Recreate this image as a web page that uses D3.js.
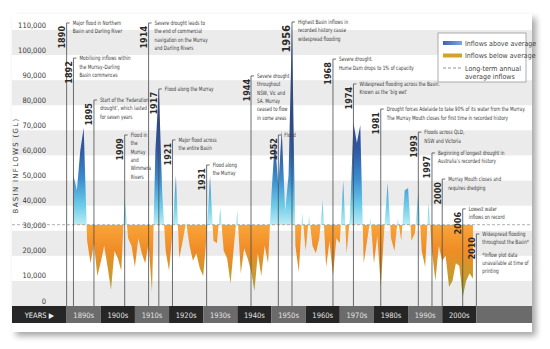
<!DOCTYPE html>
<html>
<head>
<meta charset="utf-8">
<title>Basin inflows</title>
<script src="https://cdn.jsdelivr.net/npm/d3@7"></script>
<style>
body { margin: 0; background: #fff; }
svg { display: block; }
.ylab { font: 7.5px "Liberation Sans Narrow", "DejaVu Sans Condensed", sans-serif; fill: #3a3a3a; }
.ytitle { font: 7px "DejaVu Sans", sans-serif; fill: #3a3a3a; letter-spacing: 1.3px; }
.decade { font: 7.5px "Liberation Sans Narrow", "DejaVu Sans Condensed", sans-serif; fill: #e2e2e2; }
.yr { font: bold 9px "DejaVu Sans Condensed", "DejaVu Sans", sans-serif; fill: #2b2b2b; }
.note { font: 6px "Liberation Sans Narrow", "DejaVu Sans Condensed", sans-serif; fill: #3a3a3a; }
.leg { font: 7px "Liberation Sans Narrow", "DejaVu Sans Condensed", sans-serif; fill: #444; }
</style>
</head>
<body>
<svg id="chart" width="550" height="349"></svg>
<script>
// annual basin inflows (GL)
var years = d3.range(1892, 2010);
var inflows = [
  52000, 46000, 62000, 71000, 26000, 17000, 25000, 12000,           // 1892-1899
  17500, 24000, 15500, 6500, 22000, 19000, 14000, 43000, 27000, 24000, // 1900s
  15500, 27000, 21000, 17000, 25000, 5600, 62000, 87000, 45000, 22000, // 1910s
  14000, 30000, 52000, 19000, 26000, 33500, 24000, 18000, 21000, 15000, // 1920s
  12000, 28000, 52000, 26000, 25000, 39000, 22000, 19000, 9000, 24000,  // 1930s
  38000, 13000, 23000, 19000, 14000, 6000, 21000, 12000, 24000, 17000,  // 1940s
  45000, 66000, 48000, 70000, 38000, 52000, 112000, 24000, 13500, 37000, // 1950s
  22000, 36000, 24000, 21000, 27000, 42000, 15500, 26000, 12000, 27000, // 1960s
  25000, 50000, 21000, 36000, 73000, 65000, 72000, 17000, 26000, 35000, // 1970s
  17000, 28000, 7600, 30000, 49000, 27000, 22000, 35000, 26000, 46000,  // 1980s
  47000, 26000, 29000, 45000, 22000, 15500, 41000, 22000, 10000, 24000, // 1990s
  18000, 20000, 7600, 10000, 17000, 16000, 3600, 10000, 13000, 11000    // 2000s
];
var average = 32400;
var yTicks = d3.range(0, 110001, 10000);
var decades = ["1890s", "1900s", "1910s", "1920s", "1930s", "1940s", "1950s", "1960s", "1970s", "1980s", "1990s", "2000s", ""];
var decadeStart = d3.range(1890, 2020, 10);

var events = [
  { label: "1890", at: 1890, level: 112800, text: ["Major flood in Northern", "Basin and Darling River"] },
  { label: "1892", at: 1892, level: 98800, text: ["Mobilising inflows within", "the Murray–Darling", "Basin commences"] },
  { label: "1895", at: 1898, level: 82100, text: ["Start of the ‘Federation", "drought’, which lasted", "for seven years"] },
  { label: "1909", at: 1907, level: 68150, text: ["Flood in", "the", "Murray", "and", "Wimmera", "Rivers"] },
  { label: "1914", at: 1914, level: 112800, text: ["Severe drought leads to", "the end of commercial", "navigation on the Murray", "and Darling Rivers"] },
  { label: "1917", at: 1917, level: 86500, text: ["Flood along the Murray"] },
  { label: "1921", at: 1921, level: 66200, text: ["Major flood across", "the entire Basin"] },
  { label: "1931", at: 1931, level: 56200, text: ["Flood along", "the Murray"] },
  { label: "1944", at: 1944, level: 91700, text: ["Severe drought", "throughout", "NSW, Vic and", "SA. Murray", "ceased to flow", "in some areas"] },
  { label: "1952", at: 1952, level: 68150, text: ["Flood"] },
  { label: "1956", at: 1956, level: 113200, text: ["Highest Basin inflows in", "recorded history cause", "widespread flooding"], big: true },
  { label: "1968", at: 1968, level: 98400, text: ["Severe drought.", "Hume Dam drops to 1% of capacity"] },
  { label: "1974", at: 1974, level: 88500, text: ["Widespread flooding across the Basin.", "Known as the ‘big wet’"] },
  { label: "1981", at: 1982, level: 78500, text: ["Drought forces Adelaide to take 90% of its water from the Murray.", "The Murray Mouth closes for first time in recorded history"] },
  { label: "1993", at: 1993, level: 69300, text: ["Floods across QLD,", "NSW and Victoria"] },
  { label: "1997", at: 1997, level: 61000, text: ["Beginning of longest drought in", "Australia’s recorded history"] },
  { label: "2000", at: 2000, level: 50600, text: ["Murray Mouth closes and", "requires dredging"] },
  { label: "2006", at: 2006, level: 38700, text: ["Lowest water", "inflows on record"] },
  { label: "2010", at: 2010, level: 28700, text: ["Widespread flooding", "throughout the Basin*"],
    note: ["*Inflow plot data", "unavailable at time of", "printing"] }
];

var svg = d3.select("#chart");
var card = { left: 12, top: 14, right: 532, bottom: 332 };
var plotBottom = 306, barH = 17;

var x = d3.scaleLinear().domain([1874, 2026]).range([card.left, card.right - 1]);
var y = d3.scaleLinear().domain([0, 110000]).range([plotBottom, 30]);

var defs = svg.append("defs");
var sh = defs.append("filter").attr("id", "shadow").attr("x", "-5%").attr("y", "-5%").attr("width", "115%").attr("height", "115%");
sh.append("feDropShadow").attr("dx", 4).attr("dy", 4).attr("stdDeviation", 3).attr("flood-color", "#000").attr("flood-opacity", 0.35);

var gBlue = defs.append("linearGradient").attr("id", "blue").attr("gradientUnits", "userSpaceOnUse")
  .attr("x1", 0).attr("x2", 0).attr("y1", y(average)).attr("y2", y(72000));
[[0, "#b9edf5"], [0.2, "#6ccae8"], [0.45, "#3d8fd0"], [0.75, "#2f5aa6"], [1, "#2b4a95"]].forEach(function (s) {
  gBlue.append("stop").attr("offset", s[0]).attr("stop-color", s[1]);
});
var gOr = defs.append("linearGradient").attr("id", "orange").attr("gradientUnits", "userSpaceOnUse")
  .attr("x1", 0).attr("x2", 0).attr("y1", y(average)).attr("y2", y(3000));
[[0, "#f9a43a"], [0.35, "#f08c25"], [0.7, "#c99a2c"], [1, "#8fa23e"]].forEach(function (s) {
  gOr.append("stop").attr("offset", s[0]).attr("stop-color", s[1]);
});
var lBlue = defs.append("linearGradient").attr("id", "legBlue");
lBlue.append("stop").attr("offset", 0).attr("stop-color", "#3a62b8");
lBlue.append("stop").attr("offset", 1).attr("stop-color", "#7da8e0");
var lOr = defs.append("linearGradient").attr("id", "legOr");
lOr.append("stop").attr("offset", 0).attr("stop-color", "#d8a323");
lOr.append("stop").attr("offset", 1).attr("stop-color", "#c9a435");

defs.append("clipPath").attr("id", "clipAbove").append("rect")
  .attr("x", card.left).attr("y", 0).attr("width", card.right - card.left).attr("height", y(average));
defs.append("clipPath").attr("id", "clipBelow").append("rect")
  .attr("x", card.left).attr("y", y(average)).attr("width", card.right - card.left).attr("height", plotBottom - y(average));

// card
svg.append("rect").attr("x", card.left).attr("y", card.top)
  .attr("width", card.right - card.left).attr("height", card.bottom - card.top)
  .attr("fill", "#fff").attr("filter", "url(#shadow)");

// alternating bands
svg.append("g").selectAll("rect").data(yTicks.slice(0, -1).filter(function (d, i) { return i % 2 === 0; }))
  .join("rect")
  .attr("x", card.left).attr("width", card.right - card.left)
  .attr("y", function (d) { return y(d + 10000); })
  .attr("height", function (d) { return y(d) - y(d + 10000); })
  .attr("fill", "#ebebeb");

// y tick labels
svg.append("g").selectAll("text").data(yTicks).join("text")
  .attr("class", "ylab").attr("text-anchor", "end")
  .attr("x", 46).attr("y", function (d) { return y(d) - 2.5; })
  .text(d3.format(","));

svg.append("text").attr("class", "ytitle").attr("text-anchor", "middle")
  .attr("transform", "translate(18," + y(56000) + ") rotate(-90)")
  .text("BASIN INFLOWS (GL)");

// inflow areas
var area = d3.area()
  .x(function (d, i) { return x(years[i]); })
  .y0(y(average))
  .y1(function (d) { return y(d); });

svg.append("path").datum(inflows).attr("d", area)
  .attr("fill", "url(#blue)").attr("clip-path", "url(#clipAbove)");
svg.append("path").datum(inflows).attr("d", area)
  .attr("fill", "url(#orange)").attr("clip-path", "url(#clipBelow)");

// long-term average
svg.append("line")
  .attr("x1", card.left).attr("x2", card.right)
  .attr("y1", y(average)).attr("y2", y(average))
  .attr("stroke", "#9a9a9a").attr("stroke-width", 0.8).attr("stroke-dasharray", "3,2");

// events
var lh = 8.3;
var ev = svg.append("g").selectAll("g").data(events).join("g")
  .attr("transform", function (d) { return "translate(" + x(d.at) + "," + y(d.level) + ")"; });

ev.append("path")
  .attr("d", function (d) { return "M3,0H0V" + (plotBottom - y(d.level)); })
  .attr("fill", "none").attr("stroke", "#4a4a4a").attr("stroke-width", 0.8);

ev.append("text").attr("class", "yr").attr("text-anchor", "end")
  .style("font-size", function (d) { return d.big ? "11px" : null; })
  .attr("transform", "translate(-1.5,3) rotate(-90)")
  .text(function (d) { return d.label; });

ev.each(function (d) {
  var g = d3.select(this);
  var t = g.append("text").attr("class", "note").attr("transform", "translate(6,2.2) scale(0.78,1)");
  d.text.forEach(function (s, i) {
    t.append("tspan").attr("x", 0).attr("y", i * lh).text(s);
  });
  if (d.note) {
    d.note.forEach(function (s, i) {
      t.append("tspan").attr("x", 0).attr("y", (i + 2.45) * lh).text(s);
    });
  }
});

// x axis bar
var bar = svg.append("g").attr("transform", "translate(0," + plotBottom + ")");
bar.append("rect").attr("x", card.left).attr("width", x(1890) - card.left).attr("height", barH).attr("fill", "#262626");
bar.append("text").attr("class", "decade").attr("x", (card.left + x(1890)) / 2).attr("y", 11.5)
  .attr("text-anchor", "middle").style("fill", "#f0f0f0").text("YEARS ▶");
var seg = bar.selectAll("g.seg").data(decadeStart).join("g").attr("class", "seg");
seg.append("rect")
  .attr("x", function (d) { return x(d); })
  .attr("width", function (d, i) { return i === decadeStart.length - 1 ? card.right - x(d) : x(d + 10) - x(d); })
  .attr("height", barH)
  .attr("fill", function (d, i) { return i % 2 === 0 ? "#6b6b6b" : "#262626"; });
seg.append("text").attr("class", "decade").attr("text-anchor", "middle")
  .attr("x", function (d) { return x(d + 5); }).attr("y", 11.5)
  .text(function (d, i) { return decades[i]; });

// legend
var leg = svg.append("g").attr("transform", "translate(438,33)");
leg.append("rect").attr("width", 88).attr("height", 49).attr("fill", "#fff").attr("stroke", "#8a8a8a").attr("stroke-width", 0.7);
leg.append("rect").attr("x", 5).attr("y", 8).attr("width", 19).attr("height", 4).attr("fill", "url(#legBlue)");
leg.append("rect").attr("x", 5).attr("y", 20.5).attr("width", 19).attr("height", 4).attr("fill", "url(#legOr)");
leg.append("line").attr("x1", 5).attr("x2", 24).attr("y1", 35).attr("y2", 35)
  .attr("stroke", "#777").attr("stroke-width", 0.8).attr("stroke-dasharray", "3,2");
leg.append("text").attr("class", "leg").attr("x", 27).attr("y", 12.5).text("Inflows above average");
leg.append("text").attr("class", "leg").attr("x", 27).attr("y", 25).text("Inflows below average");
var lt = leg.append("text").attr("class", "leg");
lt.append("tspan").attr("x", 27).attr("y", 37.5).text("Long-term annual");
lt.append("tspan").attr("x", 27).attr("y", 46).text("average inflows");
</script>
</body>
</html>
